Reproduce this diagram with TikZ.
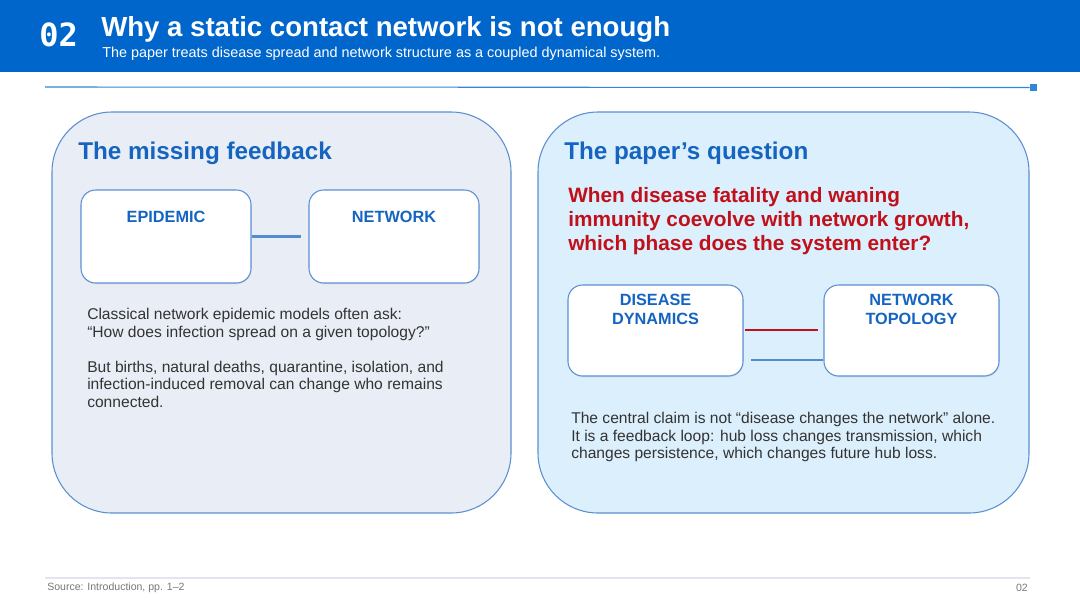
\documentclass[tikz,border=0pt]{standalone}
\usepackage{fontspec}
\setmainfont{Liberation Sans}
\newfontfamily\monob{DejaVu Sans Mono}
\usetikzlibrary{calc,shadows}
\definecolor{hdrblue}{HTML}{0066CC}
\definecolor{ttlblue}{HTML}{1565C0}
\definecolor{edgeblue}{HTML}{5B8FD0}
\definecolor{panelgray}{HTML}{E9EEF6}
\definecolor{panelblue}{HTML}{DCEFFC}
\definecolor{qred}{HTML}{C0101A}
\definecolor{bodytxt}{HTML}{333333}
\definecolor{footline}{HTML}{E2E5F0}
\definecolor{foottxt}{HTML}{777777}
\tikzset{
  panel/.style={draw=edgeblue, line width=0.8pt, rounded corners=45pt, inner sep=0pt},
  card/.style={draw=edgeblue, line width=0.8pt, fill=white, rounded corners=11pt, inner sep=0pt,
     drop shadow={shadow xshift=0.5pt, shadow yshift=-1pt, opacity=0.12}},
  cardlbl/.style={text=ttlblue, font=\bfseries\fontsize{12.2}{14}\selectfont, align=center, anchor=north, inner sep=0pt},
  ptitle/.style={text=ttlblue, font=\bfseries\fontsize{18.2}{22}\selectfont, anchor=west, inner sep=0pt},
  body/.style={text=bodytxt, font=\fontsize{11.7}{13.2}\selectfont, align=left, anchor=north west, inner sep=0pt},
  link/.style={line width=1.6pt}
}
\begin{document}
\begin{tikzpicture}[x=0.75pt,y=-0.75pt]
\useasboundingbox (0,0) rectangle (1080,608);
\fill[white] (0,0) rectangle (1080,608);
% header
\fill[hdrblue] (0,0) rectangle (1080,72);
\node[text=white, font=\monob\bfseries\fontsize{24}{26}\selectfont, anchor=west, inner sep=0pt] (num) at (39,35) {02};
\node[text=white, font=\bfseries\fontsize{20.7}{24}\selectfont, anchor=base west, inner sep=0pt] (title) at (101,36) {Why a static contact network is not enough};
\node[text=white, font=\fontsize{10.8}{12}\selectfont, anchor=base west, inner sep=0pt] (sub) at (102,57) {The paper treats disease spread and network structure as a coupled dynamical system.};
% rule
\coordinate (r0) at (45,87);
\node[fill=hdrblue!80!white, minimum size=5.5pt, inner sep=0pt] (sq) at (1033.5,87.5) {};
\draw[hdrblue!80!white, line width=0.8pt] (r0) -- (sq.west);
% panels
\node[panel, fill=panelgray, minimum width=344.25pt, minimum height=300.75pt] (lp) at (281.5,312.5) {};
\node[panel, fill=panelblue, minimum width=368.25pt, minimum height=300.75pt] (rp) at (783.5,312.5) {};
% left panel
\node[ptitle] (lt) at (78,153) {The missing feedback};
\node[card, minimum width=127.5pt, minimum height=69.75pt] (epi) at (166,236.5) {};
\node[card, minimum width=127.5pt, minimum height=69.75pt] (net) at (394,236.5) {};
\node[cardlbl] (epil) at (166,211) {EPIDEMIC};
\node[cardlbl] (netl) at (394,211) {NETWORK};
\coordinate (lend) at (301,236.5);
\draw[link, edgeblue!90!hdrblue] (epi.east) -- (lend);
\node[body] (ltx) at (87,308) {Classical network epidemic models often ask:\\``How does infection spread on a given topology?''\\[13.2pt]But births, natural deaths, quarantine, isolation, and\\infection-induced removal can change who remains\\connected.};
% right panel
\node[ptitle] (rt) at (564,153) {The paper’s question};
\node[text=qred, font=\bfseries\fontsize{15.6}{18}\selectfont, align=left, anchor=north west, inner sep=0pt] (q) at (568,187) {When disease fatality and waning\\immunity coevolve with network growth,\\which phase does the system enter?};
\node[card, minimum width=131.25pt, minimum height=68.25pt] (dis) at (655.5,330.5) {};
\node[card, minimum width=131.25pt, minimum height=68.25pt] (top) at (911.5,330.5) {};
\node[cardlbl] (disl) at (655.5,294) {DISEASE\\DYNAMICS};
\node[cardlbl] (topl) at (911.5,294) {NETWORK\\TOPOLOGY};
\coordinate (ra) at (745,330);
\coordinate (rb) at (818,330);
\coordinate (ba) at (751,360);
\draw[link, qred] (ra) -- (rb);
\draw[link, edgeblue!90!hdrblue] (ba) -- (top.west |- ba);
\node[body] (rtx) at (571,412) {The central claim is not ``disease changes the network'' alone.\\It is a feedback loop: hub loss changes transmission, which\\changes persistence, which changes future hub loss.};
% footer
\coordinate (f0) at (45,578);
\coordinate (f1) at (1030,578);
\draw[footline, line width=1.2pt] (f0) -- (f1);
\node[text=foottxt, font=\fontsize{7.9}{9}\selectfont, anchor=west, inner sep=0pt] (src) at (47,587.5) {Source: Introduction, pp. 1–2};
\node[text=foottxt, font=\fontsize{7.9}{9}\selectfont, anchor=east, inner sep=0pt] (pg) at (1028,587.5) {02};
\end{tikzpicture}
\end{document}
